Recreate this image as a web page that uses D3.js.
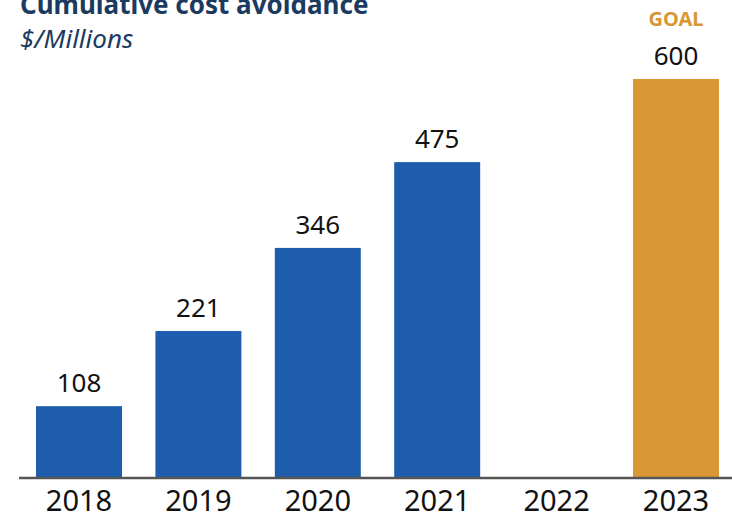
<!DOCTYPE html>
<html>
<head>
<meta charset="utf-8">
<script src="https://cdn.jsdelivr.net/npm/d3@7"></script>
<style>
  body { margin: 0; background: #fff; }
  text { font-family: "Noto Sans", sans-serif; }
</style>
</head>
<body>
<div id="chart"></div>
<script>
(function() {
    // Données
    const years = ["2018", "2019", "2020", "2021", "2022", "2023"];
    const values = [108, 221, 346, 475, null, 600];
    const goalYear = "2023";

    const width = 732, height = 516;
    const baseline = 478, top = 79;

    const svg = d3.select("#chart").append("svg")
        .attr("width", width)
        .attr("height", height);

    const x = d3.scaleBand()
        .domain(years)
        .range([19.3, 735.7])
        .paddingInner(0.28)
        .paddingOuter(0.14);

    const y = d3.scaleLinear()
        .domain([0, 600])
        .range([baseline, top]);

    const data = years.map((d, i) => ({ year: d, value: values[i] }))
        .filter(d => d.value != null);

    // Barres
    svg.selectAll(".bar")
        .data(data)
        .enter().append("rect")
        .attr("class", "bar")
        .attr("x", d => x(d.year))
        .attr("y", d => y(d.value))
        .attr("width", x.bandwidth())
        .attr("height", d => y(0) - y(d.value))
        .attr("fill", d => d.year === goalYear ? "#d89634" : "#1d5dab");

    // Valeurs
    svg.selectAll(".val")
        .data(data)
        .enter().append("text")
        .attr("class", "val")
        .attr("x", d => x(d.year) + x.bandwidth() / 2)
        .attr("y", d => y(d.value) - 14)
        .attr("text-anchor", "middle")
        .attr("font-size", 26)
        .attr("fill", "#111")
        .text(d => d.value);

    // GOAL
    svg.append("text")
        .attr("x", x(goalYear) + x.bandwidth() / 2)
        .attr("y", 26)
        .attr("text-anchor", "middle")
        .attr("font-size", 20)
        .attr("font-weight", "bold")
        .attr("fill", "#d89634")
        .text("GOAL");

    // Axe
    const axis = svg.append("g")
        .attr("transform", `translate(0,${baseline})`)
        .call(d3.axisBottom(x).tickSize(0).tickPadding(0));
    axis.select(".domain")
        .attr("d", `M19,0H${width}`)
        .attr("stroke", "#555")
        .attr("stroke-width", 2.5);
    axis.selectAll(".tick text")
        .attr("dy", null)
        .attr("y", 33)
        .attr("font-size", 29)
        .attr("font-family", "Noto Sans, sans-serif")
        .attr("fill", "#111");

    // Titre
    svg.append("text")
        .attr("x", 20)
        .attr("y", 14)
        .attr("font-size", 26)
        .attr("font-weight", "bold")
        .attr("fill", "#1b3a5f")
        .text("Cumulative cost avoidance");

    svg.append("text")
        .attr("x", 20)
        .attr("y", 48)
        .attr("font-size", 26)
        .attr("font-style", "italic")
        .attr("fill", "#1b3a5f")
        .text("$/Millions");
})();
</script>
</body>
</html>
